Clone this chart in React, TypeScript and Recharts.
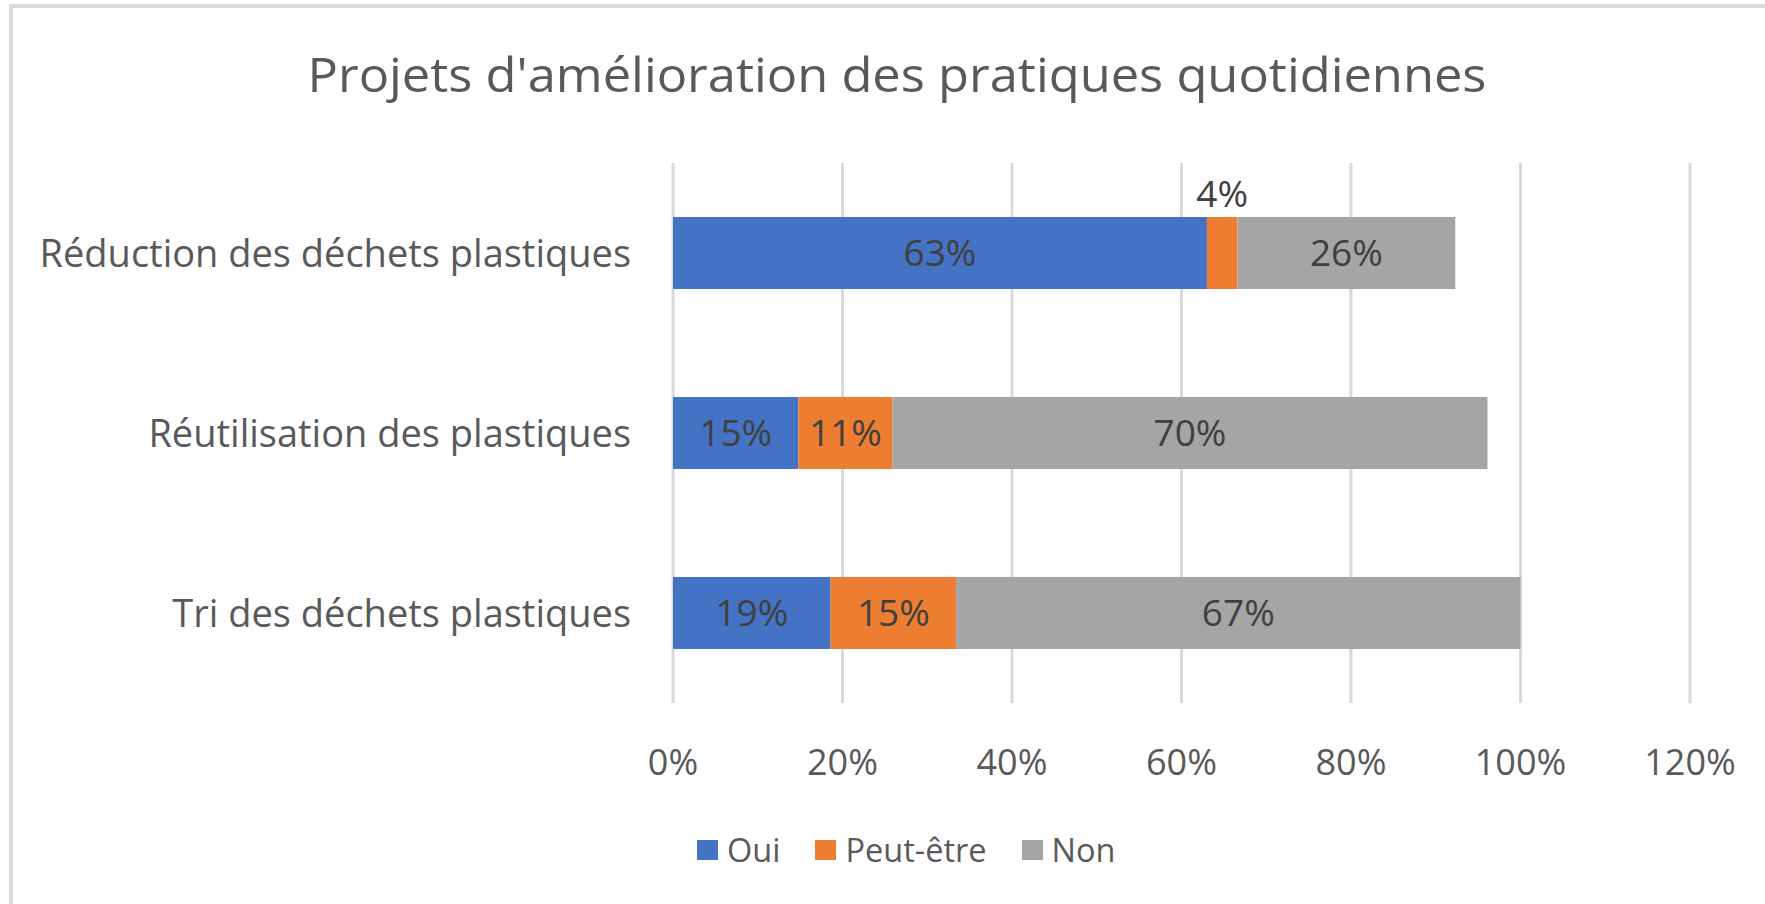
import React from 'react';
import { BarChart, Bar, XAxis, YAxis, CartesianGrid, Legend, LabelList } from 'recharts';

const categories = ['Réduction des déchets plastiques', 'Réutilisation des plastiques', 'Tri des déchets plastiques'];
const oui = [63, 14.8, 18.6];
const peutEtre = [3.6, 11.1, 14.8];
const non = [25.7, 70.2, 66.6];
const xTicks = [0, 20, 40, 60, 80, 100, 120];
const seriesKeys = ['oui', 'peut', 'non'];
const seriesNames = ['Oui', 'Peut-être', 'Non'];
const seriesColors = ['#4472C4', '#ED7D31', '#A5A5A5'];
const chartTitle = "Projets d'amélioration des pratiques quotidiennes";

const data = categories.map((c, i) => ({ name: c, oui: oui[i], peut: peutEtre[i], non: non[i] }));

const FONT = '"Open Sans", "Noto Sans", sans-serif';
const AXIS_COLOR = '#595959';
const LABEL_COLOR = '#404040';

const XTick = (props: any) => {
  const { x, y, payload } = props;
  return (
    <text x={x} y={y + 64} textAnchor="middle" fontSize={36} fill={AXIS_COLOR} fontFamily={FONT}>
      {`${payload.value}%`}
    </text>
  );
};

const YTick = (props: any) => {
  const { x, y, payload } = props;
  return (
    <text x={x - 34} y={y + 14} textAnchor="end" fontSize={38} fill={AXIS_COLOR} fontFamily={FONT}>
      {payload.value}
    </text>
  );
};

const DataLabel = (props: any) => {
  const { x, y, width, height, value } = props;
  const txt = `${Math.round(Number(value))}%`;
  const fs = 37;
  const textW = txt.length * fs * 0.55;
  const cx = Number(x) + Number(width) / 2;
  if (Number(width) < textW) {
    return (
      <text x={cx} y={Number(y) - 10} textAnchor="middle" fontSize={fs} fill={LABEL_COLOR} fontFamily={FONT}>
        {txt}
      </text>
    );
  }
  return (
    <text x={cx} y={Number(y) + Number(height) / 2 + 13} textAnchor="middle" fontSize={fs} fill={LABEL_COLOR} fontFamily={FONT}>
      {txt}
    </text>
  );
};

const LegendContent = () => (
  <div style={{ display: 'flex', alignItems: 'center', fontFamily: FONT, fontSize: 32.5, color: AXIS_COLOR }}>
    {seriesNames.map((n, i) => (
      <div key={n} style={{ display: 'flex', alignItems: 'center', marginRight: 35 }}>
        <div style={{ width: 21, height: 20, background: seriesColors[i], marginRight: 9 }} />
        <span style={{ lineHeight: '36px' }}>{n}</span>
      </div>
    ))}
  </div>
);

export default function App() {
  return (
    <div style={{ position: 'fixed', left: 0, top: 0, width: 1765, height: 904, background: '#fff' }}>
      <div style={{ position: 'absolute', left: 9, top: 4, right: 0, bottom: 0, borderLeft: '4px solid #d9d9d9', borderTop: '4px solid #d9d9d9' }} />
      <BarChart
        width={1765}
        height={904}
        data={data}
        layout="vertical"
        margin={{ top: 163, right: 75, bottom: 121, left: 0 }}
      >
        <text
          x={897}
          y={92}
          textAnchor="middle"
          fontSize={48}
          fill={AXIS_COLOR}
          fontFamily={FONT}
          textLength={1179}
          lengthAdjust="spacingAndGlyphs"
        >
          {chartTitle}
        </text>
        <CartesianGrid horizontal={false} stroke="#d9d9d9" strokeWidth={3} />
        <XAxis
          type="number"
          domain={[0, 120]}
          ticks={xTicks}
          axisLine={false}
          tickLine={false}
          height={80}
          tick={<XTick />}
          interval={0}
        />
        <YAxis
          type="category"
          dataKey="name"
          width={673}
          axisLine={false}
          tickLine={false}
          tick={<YTick />}
        />
        {seriesKeys.map((k, i) => (
          <Bar key={k} dataKey={k} name={seriesNames[i]} stackId="s" fill={seriesColors[i]} barSize={72} isAnimationActive={false}>
            <LabelList dataKey={k} content={<DataLabel />} />
          </Bar>
        ))}
        <Legend
          layout="horizontal"
          verticalAlign="middle"
          align="center"
          content={<LegendContent />}
          wrapperStyle={{ left: 697, top: 832, width: 520, height: 36 }}
        />
      </BarChart>
    </div>
  );
}
